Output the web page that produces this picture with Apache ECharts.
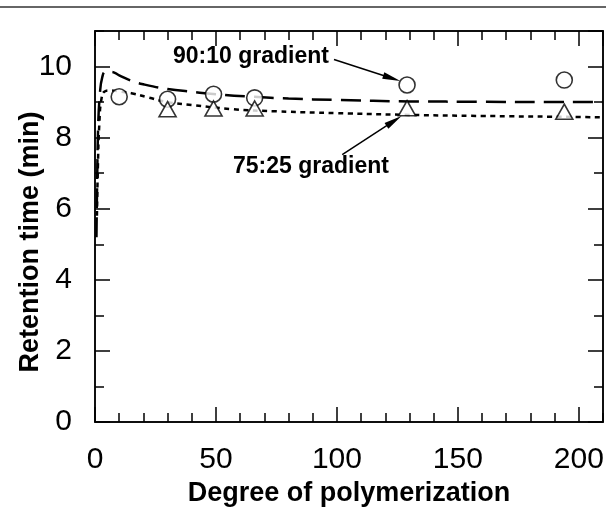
<!DOCTYPE html>
<html>
<head>
<meta charset="utf-8">
<script src="https://cdn.jsdelivr.net/npm/echarts@6/dist/echarts.min.js"></script>
<style>
  html, body { margin: 0; padding: 0; background: #fff; }
  #chart { width: 606px; height: 508px; }
</style>
</head>
<body>
<div id="chart"></div>
<script type="text/javascript">

// fitted curves
var fit9010X = [0.6, 0.9, 1.3, 2, 3, 4.5, 7, 10, 15, 20, 30, 40, 50, 65, 80, 100, 130, 160, 190, 210];
var fit9010Y = [5.2, 6.8, 8.3, 9.2, 9.7, 9.86, 9.85, 9.75, 9.6, 9.5, 9.37, 9.29, 9.22, 9.15, 9.1, 9.06, 9.02, 9.01, 9.0, 9.0];
var fit7525X = [0.8, 1.2, 1.8, 2.7, 4, 6, 10, 15, 22, 30, 40, 57, 75, 100, 130, 160, 200, 210];
var fit7525Y = [5.8, 7.2, 8.4, 9.1, 9.3, 9.33, 9.3, 9.25, 9.13, 9.0, 8.92, 8.8, 8.74, 8.69, 8.64, 8.61, 8.58, 8.57];

// measured points
var circleX = [10, 30, 49, 66, 129, 194];
var circleY = [9.15, 9.08, 9.22, 9.12, 9.48, 9.62];
var triangleX = [30, 49, 66, 129, 194];
var triangleY = [8.8, 8.82, 8.82, 8.83, 8.73];

var xTicks = ['0', '50', '100', '150', '200'];
var yTicks = ['0', '2', '4', '6', '8', '10'];

function pairs(xs, ys) {
	var out = [];
	for (var i = 0; i < xs.length; i++) {
		out.push([xs[i], ys[i]]);
	}
	return out;
}

var font = 'Liberation Sans, Arial, Helvetica, sans-serif';
var ink = '#000';

function xAx(pos, step, len, labels) {
	return {
		type: 'value', position: pos, min: 0, max: 210, interval: step,
		axisLine: { show: true, onZero: false, lineStyle: { color: ink, width: 1.5 } },
		axisTick: { show: true, inside: true, length: len, lineStyle: { color: ink, width: 1.5 } },
		axisLabel: labels ? {
			show: true, margin: 23, fontSize: 30, color: ink, fontFamily: font, showMaxLabel: false,
			formatter: function (v) { return xTicks.indexOf(String(v)) >= 0 ? String(v) : ''; }
		} : { show: false },
		splitLine: { show: false }
	};
}

function yAx(pos, step, len, labels) {
	return {
		type: 'value', position: pos, min: 0, max: 11, interval: step,
		axisLine: { show: true, onZero: false, lineStyle: { color: ink, width: 1.5 } },
		axisTick: { show: true, inside: true, length: len, lineStyle: { color: ink, width: 1.5 } },
		axisLabel: labels ? {
			show: true, margin: 23, fontSize: 30, color: ink, fontFamily: font, showMaxLabel: false,
			formatter: function (v) { return yTicks.indexOf(String(v)) >= 0 ? String(v) : ''; }
		} : { show: false },
		splitLine: { show: false }
	};
}

var xMain = xAx('bottom', 50, 15, true);
xMain.name = 'Degree of polymerization';
xMain.nameLocation = 'middle';
xMain.nameGap = 51;
xMain.nameTextStyle = { fontSize: 27, fontWeight: 'bold', color: ink, fontFamily: font };

var yMain = yAx('left', 2, 15, true);

var arrowStyle = { color: ink, width: 1.5, type: 'solid' };

var option = {
	animation: false,
	backgroundColor: '#fff',
	grid: { left: 95, right: 3, top: 31, bottom: 86, containLabel: false, outerBoundsMode: 'none' },
	xAxis: [xAx('bottom', 10, 9, false), xMain, xAx('top', 10, 9, false), xAx('top', 50, 15, false)],
	yAxis: [yAx('left', 1, 9, false), yMain, yAx('right', 1, 9, false), yAx('right', 2, 15, false)],
	graphic: [
		{ type: 'line', shape: { x1: 0, y1: 7, x2: 606, y2: 7 }, style: { stroke: '#333', lineWidth: 1.5 } },
		{
			type: 'text', x: 31, y: 242, rotation: Math.PI / 2,
			style: { text: 'Retention time (min)', font: 'bold 27px ' + font, fill: ink, align: 'center', verticalAlign: 'middle' }
		},
		{ type: 'text', left: 173, top: 45, style: { text: '90:10 gradient', font: 'bold 23px ' + font, fill: ink } },
		{ type: 'text', left: 233, top: 155, style: { text: '75:25 gradient', font: 'bold 23px ' + font, fill: ink } }
	],
	series: [
		{
			name: '90:10 fit', type: 'line', xAxisIndex: 0, yAxisIndex: 0,
			data: pairs(fit9010X, fit9010Y), showSymbol: false, smooth: true, z: 2,
			lineStyle: { color: ink, width: 2.5, type: [20, 9] },
			markLine: {
				silent: true, symbol: ['none', 'triangle'], symbolSize: [7, 18],
				label: { show: false }, lineStyle: arrowStyle,
				data: [[{ coord: [98.8, 10.2] }, { coord: [122.7, 9.67] }]]
			}
		},
		{
			name: '75:25 fit', type: 'line', xAxisIndex: 0, yAxisIndex: 0,
			data: pairs(fit7525X, fit7525Y), showSymbol: false, smooth: true, z: 2,
			lineStyle: { color: ink, width: 2.5, type: [5, 4.5] },
			markLine: {
				silent: true, symbol: ['none', 'triangle'], symbolSize: [7, 18],
				label: { show: false }, lineStyle: arrowStyle,
				data: [[{ coord: [102.2, 7.52] }, { coord: [123.6, 8.47] }]]
			}
		},
		{
			name: '90:10 gradient', type: 'scatter', xAxisIndex: 0, yAxisIndex: 0,
			data: pairs(circleX, circleY), symbol: 'circle', symbolSize: 16, z: 5,
			itemStyle: { color: '#fff', borderColor: ink, borderWidth: 1.6 }
		},
		{
			name: '75:25 gradient', type: 'scatter', xAxisIndex: 0, yAxisIndex: 0,
			data: pairs(triangleX, triangleY), symbol: 'triangle', symbolSize: [17, 15], z: 5,
			itemStyle: { color: '#fff', borderColor: ink, borderWidth: 1.6 }
		}
	]
};

var chart = echarts.init(document.getElementById('chart'));
chart.setOption(option);
</script>
</body>
</html>
